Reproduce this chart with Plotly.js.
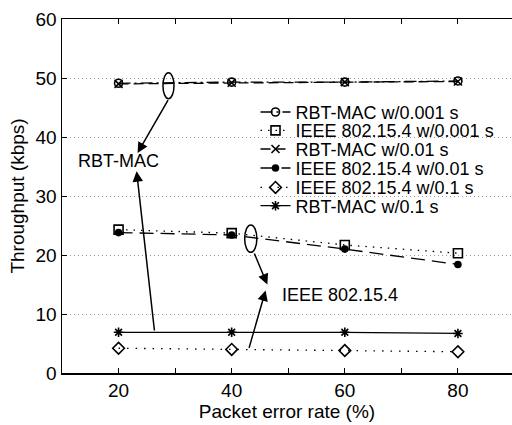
<!DOCTYPE html>
<html>
<head>
<meta charset="utf-8">
<script src="https://cdn.plot.ly/plotly-3.0.1.min.js"></script>
<style>html,body{margin:0;padding:0;background:#fff;}#chart{width:512px;height:425px;}</style>
</head>
<body>
<div id="chart"></div>
<script>
// Packet error rate (%)
var per = [20, 40, 60, 80];
// Throughput (kbps)
var rbtMac001 = [49.1, 49.3, 49.3, 49.5];
var ieee001 = [24.3, 23.7, 21.7, 20.3];
var rbtMac01 = [49.0, 49.2, 49.3, 49.4];
var ieee01 = [23.8, 23.4, 21.0, 18.4];
var ieee1 = [4.2, 4.0, 3.8, 3.6];
var rbtMac1 = [6.9, 6.9, 6.9, 6.7];

var seriesNames = ['RBT-MAC w/0.001 s', 'IEEE 802.15.4 w/0.001 s', 'RBT-MAC w/0.01 s',
                   'IEEE 802.15.4 w/0.01 s', 'IEEE 802.15.4 w/0.1 s', 'RBT-MAC w/0.1 s'];
var xTickVals = [20, 40, 60, 80];
var yTickVals = [0, 10, 20, 30, 40, 50, 60];

var font = 'Liberation Sans, Arial, sans-serif';
var styles = [
  {dash: '12px,4px,2px,4px', symbol: 'circle-open', size: 8},
  {dash: '1.5px,6px', symbol: 'square-open', size: 9},
  {dash: '10px,5px', symbol: 'x-thin-open', size: 8},
  {dash: '14px,7px', symbol: 'circle', size: 6},
  {dash: '1.5px,7px', symbol: 'diamond-open', size: 9},
  {dash: 'solid', symbol: 'asterisk-open', size: 8}
];
var ys = [rbtMac001, ieee001, rbtMac01, ieee01, ieee1, rbtMac1];

var traces = ys.map(function (y, i) {
  return {
    x: per, y: y, name: seriesNames[i], type: 'scatter', mode: 'lines+markers',
    legend: i === 0 ? 'legend' : 'legend' + (i + 1),
    line: {color: '#000', width: 1.3, dash: styles[i].dash},
    marker: {symbol: styles[i].symbol, size: styles[i].size, color: '#000',
             line: {color: '#000', width: 1.6}}
  };
});

var rowPx = [112.3, 130.7, 149.3, 168.3, 187.7, 206];
var layout = {
  width: 512, height: 425,
  margin: {l: 62, r: 0, t: 19, b: 52},
  paper_bgcolor: '#fff', plot_bgcolor: '#fff',
  font: {family: font, color: '#000', size: 18},
  xaxis: {
    range: [10, 89.56], tickmode: 'array', tickvals: xTickVals,
    ticks: 'inside', ticklen: 5, tickwidth: 1, tickcolor: '#000',
    minor: {dtick: 10, tick0: 0, ticks: 'inside', ticklen: 5, tickcolor: '#000', showgrid: false},
    showline: true, linecolor: '#000', linewidth: 1.5, mirror: 'ticks',
    showgrid: false, zeroline: false,
    tickfont: {size: 19, family: font},
    title: {text: 'Packet error rate (%)', font: {size: 19, family: font}, standoff: 2}
  },
  yaxis: {
    range: [0, 60], tickmode: 'array', tickvals: yTickVals,
    ticks: 'inside', ticklen: 5, tickcolor: '#000',
    showline: true, linecolor: '#000', linewidth: 1.5, mirror: false,
    showgrid: true, gridcolor: '#999', griddash: '1px,3px', gridwidth: 1, zeroline: false,
    tickfont: {size: 19, family: font},
    title: {text: 'Throughput (kbps)', font: {size: 19, family: font}, standoff: 6}
  },
  showlegend: true,
  shapes: [
    {type: 'circle', xref: 'x', yref: 'y', x0: 27.85, x1: 29.8, y0: 46.5, y1: 50.9,
     line: {color: '#000', width: 1.5}},
    {type: 'circle', xref: 'x', yref: 'y', x0: 42.3, x1: 44.45, y0: 20.45, y1: 25.1,
     line: {color: '#000', width: 1.5}}
  ],
  annotations: [
    {x: 20.0, y: 35.9, xref: 'x', yref: 'y', text: 'RBT-MAC', showarrow: false,
     font: {size: 18, family: font}},
    {x: 59.1, y: 13.3, xref: 'x', yref: 'y', text: 'IEEE 802.15.4', showarrow: false,
     font: {size: 18, family: font}},
    {x: 23.36, y: 37.3, ax: 28.9, ay: 46.5, xref: 'x', yref: 'y', axref: 'x', ayref: 'y',
     text: '', showarrow: true, arrowhead: 2, arrowsize: 1.4, arrowwidth: 1.5, arrowcolor: '#000'},
    {x: 23.19, y: 34.2, ax: 26.37, ay: 6.95, xref: 'x', yref: 'y', axref: 'x', ayref: 'y',
     text: '', showarrow: true, arrowhead: 2, arrowsize: 1.4, arrowwidth: 1.5, arrowcolor: '#000'},
    {x: 46.3, y: 15.0, ax: 43.9, ay: 20.5, xref: 'x', yref: 'y', axref: 'x', ayref: 'y',
     text: '', showarrow: true, arrowhead: 2, arrowsize: 1.4, arrowwidth: 1.5, arrowcolor: '#000'},
    {x: 46.0, y: 14.0, ax: 43.0, ay: 4.0, xref: 'x', yref: 'y', axref: 'x', ayref: 'y',
     text: '', showarrow: true, arrowhead: 2, arrowsize: 1.4, arrowwidth: 1.5, arrowcolor: '#000'}
  ]
};
rowPx.forEach(function (py, i) {
  var key = i === 0 ? 'legend' : 'legend' + (i + 1);
  layout[key] = {
    x: 0.43, xanchor: 'left', y: (373 - py) / 354, yanchor: 'middle',
    bgcolor: 'rgba(0,0,0,0)', borderwidth: 0,
    font: {size: 18, family: font, color: '#000'},
    itemwidth: 30
  };
});

Plotly.newPlot('chart', traces, layout, {displayModeBar: false, staticPlot: true});
</script>
</body>
</html>
